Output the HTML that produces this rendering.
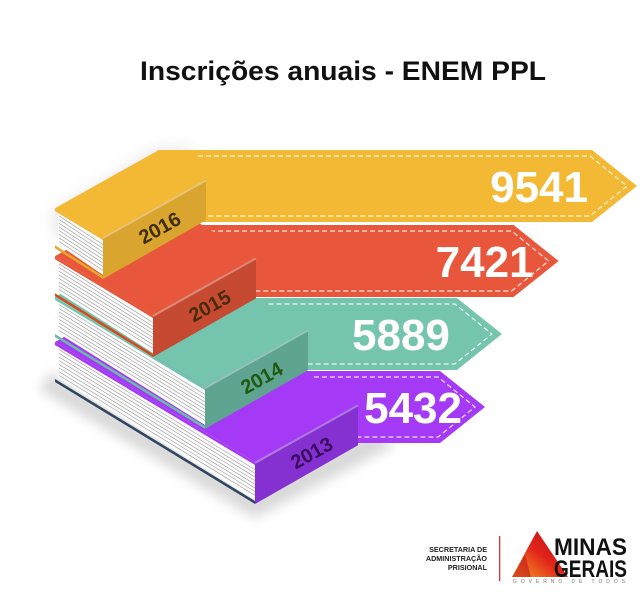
<!DOCTYPE html>
<html><head><meta charset="utf-8">
<style>
html,body{margin:0;padding:0;background:#fff;}
svg{display:block;font-family:"Liberation Sans",sans-serif;}
</style></head>
<body>
<svg id="chart" width="644" height="600" viewBox="0 0 644 600" xmlns="http://www.w3.org/2000/svg">
  <defs>
    <filter id="blur" x="-20%" y="-20%" width="140%" height="140%"><feGaussianBlur stdDeviation="6"/></filter>
    <filter id="blur2" x="-20%" y="-20%" width="140%" height="140%"><feGaussianBlur stdDeviation="8"/></filter>
    <linearGradient id="tri" x1="0" y1="1" x2="1" y2="0">
      <stop offset="0" stop-color="#f5a623"/><stop offset="0.5" stop-color="#e2231a"/><stop offset="1" stop-color="#b3111a"/>
    </linearGradient>
  </defs>
  <text x="343" y="80" text-anchor="middle" font-size="27" font-weight="bold" fill="#111" textLength="406" lengthAdjust="spacingAndGlyphs">Inscrições anuais - ENEM PPL</text>
  <polygon points="40,390 255,518 395,445 370,430 255,495 50,372" fill="#d8d8d8" filter="url(#blur)"/>
  <polygon points="52,215 158,150 200,150 60,240" fill="#cfcfcf" filter="url(#blur2)" opacity="0.6"/>
  <g id="marks"></g>
  <g>
    <text x="487" y="552" text-anchor="end" font-size="7.2" font-weight="bold" fill="#222">SECRETARIA DE</text>
    <text x="487" y="561" text-anchor="end" font-size="7.2" font-weight="bold" fill="#222">ADMINISTRAÇÃO</text>
    <text x="487" y="570" text-anchor="end" font-size="7.2" font-weight="bold" fill="#222">PRISIONAL</text>
    <rect x="499" y="536" width="1.3" height="45" fill="#d33"/>
    <polygon points="537,531 512,577 568,577" fill="url(#tri)"/>
    <polygon points="512,577 525,555 531,577" fill="#c0161b" opacity="0.6"/>
    <text x="554" y="555" font-size="24" font-weight="bold" fill="#111" textLength="73" lengthAdjust="spacingAndGlyphs">MINAS</text>
    <text x="554" y="577" font-size="24" font-weight="bold" fill="#111" textLength="73" lengthAdjust="spacingAndGlyphs">GERAIS</text>
    <text x="513" y="583" font-size="5" fill="#777" textLength="112" lengthAdjust="spacing">GOVERNO DE TODOS</text>
  </g>
</svg>
<script>
// data (bottom to top)
const years = ["2013", "2014", "2015", "2016"];
const values = [5432, 5889, 7421, 9541];
const labels = ["5432", "5889", "7421", "9541"];

const NS = "http://www.w3.org/2000/svg";
const marks = document.getElementById("marks");
const minV = Math.min(...values), maxV = Math.max(...values);
function xTip(v){ return 485 + (v - minV) / (maxV - minV || 1) * 152; }

const colors = ["#a53af6","#74c4ae","#e8573b","#f4b934"];
const spines = ["#8530d0","#5fa391","#c64a31","#d9a52e"];
const coverEdge = ["#2f4560","#6bbba5","#d9491f","#e6a82a"];
const yearFill = ["#3a0d60","#1e5a10","#4a2a0c","#3d2e08"];
const textOffset = [23,52,25,49];
const arrowTop = [371,298,225,150];
const arrowH = 72;
const bookF = [[255,462],[205,387],[153,315],[103,237]];
const depth = [200,150,98,48];
const W = 103, H = 41, us = -0.56, vs = 0.6;

function mk(tag, attrs, parent){
  const e = document.createElementNS(NS, tag);
  for (const k in attrs) e.setAttribute(k, attrs[k]);
  (parent||marks).appendChild(e);
  return e;
}
function pts(a){ return a.map(p=>p[0].toFixed(1)+","+p[1].toFixed(1)).join(" "); }

for (let i = 0; i < years.length; i++){
  const F = bookF[i], d = depth[i];
  // arrow
  const t = arrowTop[i], b = t + arrowH, m = (t+b)/2;
  const tip = xTip(values[i]), end = tip - 45;
  const lb = F[0] + (b - F[1]) / us + 2;
  const lt = Math.max(F[0]-d+W, lb - 25);
  const ar = mk("polygon", {points: pts([[lt,t],[end,t],[tip,m],[end,b],[lb,b]]), fill: colors[i]});
  
  
  const ds = mk("polyline", {points: pts([[lt+40,t+6],[end-2,t+6],[tip-10,m],[end-2,b-6],[lb+10,b-6]]), fill:"none", stroke:"#fff", "stroke-width":1.2, "stroke-dasharray":"5,3", opacity:0.85});
  
  
  const tx = mk("text", {x: tip - textOffset[i], y: m + 16, "text-anchor":"end", "font-size":44, "font-weight":"bold", fill:"#fff"});
  tx.textContent = labels[i];
  
  
}
for (let i = 0; i < years.length; i++){
  const F = bookF[i], d = depth[i];
  const L = [F[0]-d, F[1]-d*vs];
  const R = [F[0]+W, F[1]+W*us];
  const B = [L[0]+W, L[1]+W*us];
  const g = mk("g", {});
  
  
  mk("polygon", {points: pts([L,B,R,F]), fill: colors[i]}, g);
  mk("polygon", {points: pts([[L[0]+3,L[1]+4],[F[0],F[1]+3],[F[0],F[1]+H-3],[L[0]+3,L[1]+H-5]]), fill:"#fbfbfb"}, g);
  for (let k = 1; k < 9; k++){
    const o = 4 + k*(H-8)/9;
    mk("line", {x1:L[0]+4, y1:L[1]+o, x2:F[0], y2:F[1]+o, stroke:"#9a9a9a", "stroke-width":0.6}, g);
  }
  mk("polygon", {points: pts([[L[0],L[1]+H-4],[F[0],F[1]+H-2],[F[0],F[1]+H+1],[L[0],L[1]+H-1]]), fill: coverEdge[i]}, g);
  mk("polygon", {points: pts([[L[0],L[1]],[F[0],F[1]],[F[0],F[1]+3],[L[0],L[1]+3]]), fill: colors[i]}, g);
  mk("polygon", {points: pts([F,R,[R[0],R[1]+H],[F[0],F[1]+H+1]]), fill: spines[i]}, g);
  mk("line", {x1:F[0], y1:F[1]+1, x2:R[0], y2:R[1]+1, stroke:"#fff", "stroke-opacity":0.35, "stroke-width":2}, g);
  const cx = F[0] + W*0.55, cy = F[1] + W*0.55*us + H*0.55;
  const yt = mk("text", {x: cx, y: cy + 7, "text-anchor":"middle", "font-size":20, "font-weight":"bold", fill: yearFill[i], transform:"rotate(-29 "+cx+" "+cy+")"}, g);
  yt.textContent = years[i];
  
  
}
</script>
</body></html>
